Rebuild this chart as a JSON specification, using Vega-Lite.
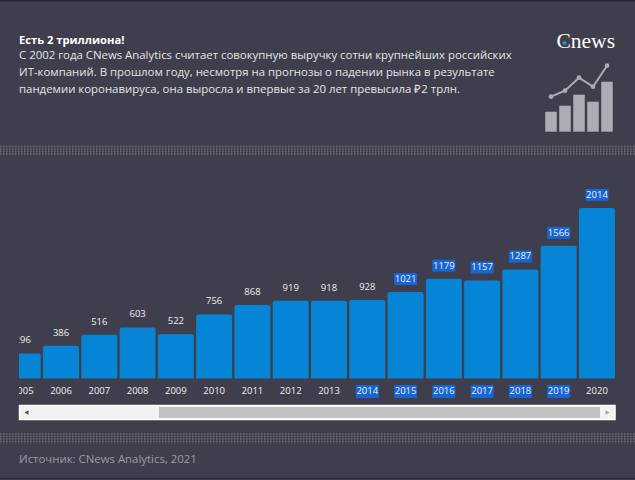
{
"$schema":"https://vega.github.io/schema/vega-lite/v6.json",
"autosize":"none","width":597,"height":230,
"padding":{"left":19,"top":178,"right":19,"bottom":72},
"background":"#3f3e4c",
"view":{"stroke":null},
"config":{"font":"Open Sans"},
"title":{"text":"Есть 2 триллиона!","subtitle":["С 2002 года CNews Analytics считает совокупную выручку сотни крупнейших российских","ИТ-компаний. В прошлом году, несмотря на прогнозы о падении рынка в результате","пандемии коронавируса, она выросла и впервые за 20 лет превысила ₽2 трлн."],
"anchor":"start","frame":"group","orient":"top","dx":0,"offset":-95,"font":"Open Sans","fontSize":11.2,"fontWeight":"bold","color":"#ffffff","subtitleFont":"Open Sans","subtitleFontSize":11.4,"subtitleColor":"#e4e4e8","subtitleLineHeight":17,"subtitlePadding":3},
"datasets":{
"rev":[{"year":"2005","rev":296},{"year":"2006","rev":386},{"year":"2007","rev":516},{"year":"2008","rev":603},{"year":"2009","rev":522},{"year":"2010","rev":756},{"year":"2011","rev":868},{"year":"2012","rev":919},{"year":"2013","rev":918},{"year":"2014","rev":928},{"year":"2015","rev":1021},{"year":"2016","rev":1179},{"year":"2017","rev":1157},{"year":"2018","rev":1287},{"year":"2019","rev":1566},{"year":"2020","rev":2014}],
"mini":[{"k":"a","bar":20,"line":35},{"k":"b","bar":26,"line":41},{"k":"c","bar":37,"line":54},{"k":"d","bar":30,"line":45},{"k":"e","bar":50,"line":66}],
"one":[{"n":1}]
},
"resolve":{"scale":{"x":"independent","y":"independent"}},
"layer":[
{
"data":{"name":"one"},
"encoding":{
"x":{"datum":0,"type":"quantitative","scale":{"domain":[0,635],"range":[-19,616]},"axis":null},
"y":{"datum":0,"type":"quantitative","scale":{"domain":[0,480],"range":[-178,302]},"axis":null}
},
"layer":[
{"mark":{"type":"rule","color":"#6f6e7a","strokeWidth":1.4,"strokeDash":[1.5,1.5]},"encoding":{"x":{"datum":0,"type":"quantitative"},"x2":{"datum":635},"y":{"datum":146.5,"type":"quantitative"}}},
{"mark":{"type":"rule","color":"#6f6e7a","strokeWidth":1.4,"strokeDash":[1.5,1.5]},"encoding":{"x":{"datum":0,"type":"quantitative"},"x2":{"datum":635},"y":{"datum":149,"type":"quantitative"}}},
{"mark":{"type":"rule","color":"#6f6e7a","strokeWidth":1.4,"strokeDash":[1.5,1.5]},"encoding":{"x":{"datum":0,"type":"quantitative"},"x2":{"datum":635},"y":{"datum":151.5,"type":"quantitative"}}},
{"mark":{"type":"rule","color":"#6f6e7a","strokeWidth":1.4,"strokeDash":[1.5,1.5]},"encoding":{"x":{"datum":0,"type":"quantitative"},"x2":{"datum":635},"y":{"datum":154,"type":"quantitative"}}},
{"mark":{"type":"rule","color":"#6f6e7a","strokeWidth":1.4,"strokeDash":[1.5,1.5]},"encoding":{"x":{"datum":0,"type":"quantitative"},"x2":{"datum":635},"y":{"datum":434,"type":"quantitative"}}},
{"mark":{"type":"rule","color":"#6f6e7a","strokeWidth":1.4,"strokeDash":[1.5,1.5]},"encoding":{"x":{"datum":0,"type":"quantitative"},"x2":{"datum":635},"y":{"datum":436.5,"type":"quantitative"}}},
{"mark":{"type":"rule","color":"#6f6e7a","strokeWidth":1.4,"strokeDash":[1.5,1.5]},"encoding":{"x":{"datum":0,"type":"quantitative"},"x2":{"datum":635},"y":{"datum":439,"type":"quantitative"}}},
{"mark":{"type":"rule","color":"#6f6e7a","strokeWidth":1.4,"strokeDash":[1.5,1.5]},"encoding":{"x":{"datum":0,"type":"quantitative"},"x2":{"datum":635},"y":{"datum":441.5,"type":"quantitative"}}},
{"mark":{"type":"rule","color":"#252533","strokeWidth":1.5},"encoding":{"x":{"datum":0,"type":"quantitative"},"x2":{"datum":635},"y":{"datum":0.8,"type":"quantitative"}}},
{"mark":{"type":"rule","color":"#252533","strokeWidth":1},"encoding":{"x":{"datum":0,"type":"quantitative"},"x2":{"datum":635},"y":{"datum":478.5,"type":"quantitative"}}},
{"mark":{"type":"rect","fill":"#f2f2f2","stroke":"#ffffff","strokeWidth":1.5},"encoding":{"x":{"datum":19.5,"type":"quantitative"},"x2":{"datum":615},"y":{"datum":405.5,"type":"quantitative"},"y2":{"datum":419.5}}},
{"mark":{"type":"rect","fill":"#c1c1c1"},"encoding":{"x":{"datum":159,"type":"quantitative"},"x2":{"datum":600},"y":{"datum":407,"type":"quantitative"},"y2":{"datum":418}}},
{"mark":{"type":"point","shape":"triangle-left","filled":true,"color":"#505050","size":22,"opacity":1},"encoding":{"x":{"datum":26.5,"type":"quantitative"},"y":{"datum":412.5,"type":"quantitative"}}},
{"mark":{"type":"point","shape":"triangle-right","filled":true,"color":"#a3a3a3","size":22,"opacity":1},"encoding":{"x":{"datum":607.5,"type":"quantitative"},"y":{"datum":412.5,"type":"quantitative"}}},
{"mark":{"type":"text","text":"Источник: CNews Analytics, 2021","align":"left","baseline":"middle","font":"Open Sans","fontSize":11.4,"color":"#9c9ba5"},"encoding":{"x":{"datum":19,"type":"quantitative"},"y":{"datum":460,"type":"quantitative"}}},
{"mark":{"type":"text","text":"Cnews","align":"right","baseline":"middle","font":"Liberation Serif","fontSize":21.5,"color":"#ffffff"},"encoding":{"x":{"datum":615,"type":"quantitative"},"y":{"datum":42,"type":"quantitative"}}},
{"mark":{"type":"point","shape":"circle","filled":true,"color":"#2b8bd0","size":16,"opacity":1},"encoding":{"x":{"datum":564.5,"type":"quantitative"},"y":{"datum":43,"type":"quantitative"}}}
]
},
{
"data":{"name":"mini"},
"encoding":{
"x":{"field":"k","type":"nominal","scale":{"type":"band","range":[525,595],"paddingInner":0,"paddingOuter":0},"axis":null}
},
"layer":[
{"mark":{"type":"bar","color":"#acabb6","size":11.5},"encoding":{"y":{"field":"bar","type":"quantitative","scale":{"domain":[0,100],"range":[-46.3,-146.3]},"axis":null}}},
{"mark":{"type":"line","color":"#acabb6","strokeWidth":2},"encoding":{"y":{"field":"line","type":"quantitative","axis":null}}},
{"mark":{"type":"point","filled":true,"color":"#acabb6","size":22,"opacity":1},"encoding":{"y":{"field":"line","type":"quantitative","axis":null}}}
]
},
{
"data":{"name":"rev"},
"encoding":{
"x":{"field":"year","type":"ordinal","sort":null,"scale":{"type":"band","range":[-15.4,597.1],"paddingInner":0,"paddingOuter":0},"axis":null},
"y":{"field":"rev","type":"quantitative","scale":{"domain":[-348.3,2367],"nice":false},"axis":null}
},
"layer":[
{"mark":{"type":"bar","size":36,"color":"#0684d6","cornerRadiusTopLeft":2,"cornerRadiusTopRight":2,"clip":true},"encoding":{"y":{"field":"rev","type":"quantitative","stack":null},"y2":{"datum":0}}},
{"transform":[{"filter":"datum.rev>=1021"}],"mark":{"type":"tick","orient":"horizontal","thickness":12,"size":23,"color":"#1766d2","opacity":1,"yOffset":-13}},
{"transform":[{"filter":"datum.year>='2014' && datum.year<='2019'"}],"mark":{"type":"tick","orient":"horizontal","thickness":13,"size":23,"color":"#1766d2","opacity":1,"yOffset":13},"encoding":{"y":{"datum":0,"type":"quantitative"}}},
{"mark":{"type":"text","dy":-13,"baseline":"middle","fontSize":9.5,"font":"Open Sans","color":"#efeff2","clip":true},"encoding":{"text":{"field":"rev","type":"quantitative","format":"d"}}},
{"mark":{"type":"text","dy":13,"baseline":"middle","fontSize":9.5,"font":"Open Sans","color":"#efeff2","clip":true},"encoding":{"y":{"datum":0,"type":"quantitative"},"text":{"field":"year","type":"ordinal"}}}
]
}
]
}
